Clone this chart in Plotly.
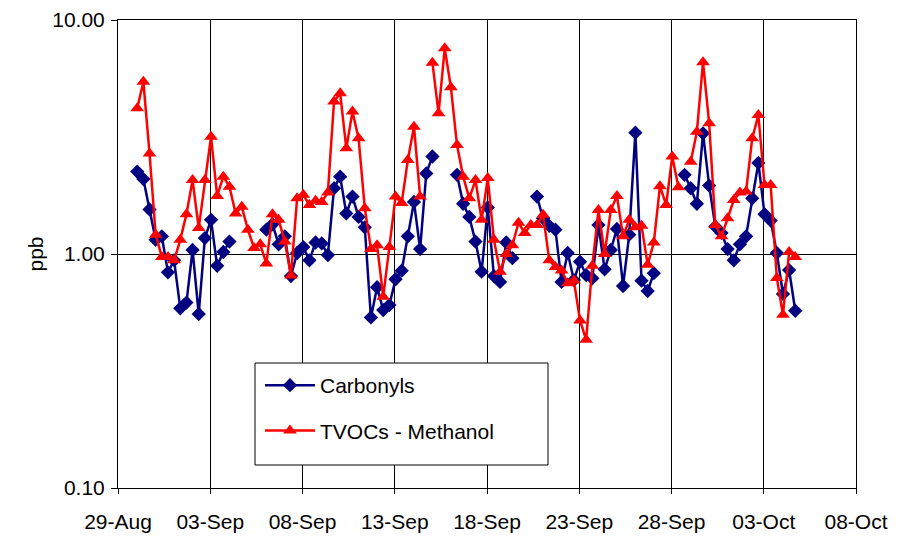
import datetime as dt
import plotly.graph_objects as go

# sampling: every 8 hours starting 30-Aug
start = dt.datetime(2004, 8, 30, 1, 0)
step_hours = 8

carbonyls = [
    2.25, 2.09, 1.55, 1.15, 1.19, 0.835, 0.94, 0.586, 0.62, 1.04,
    0.554, 1.17, 1.40, 0.89, 1.02, 1.13, None, None, None, None,
    None, 1.27, 1.34, 1.10, 1.19, 0.805, 1.01, 1.07, 0.94, 1.12,
    1.11, 0.99, 1.91, 2.14, 1.49, 1.76, 1.44, 1.30, 0.536, 0.721,
    0.576, 0.605, 0.78, 0.849, 1.19, 1.67, 1.05, 2.21, 2.61, None,
    None, None, 2.18, 1.64, 1.44, 1.13, 0.84, 1.58, 0.805, 0.76,
    1.12, 0.96, None, None, None, 1.76, 1.42, 1.32, 1.27, 0.76,
    1.01, 0.774, 0.927, 0.813, 0.787, 1.33, 0.86, 1.04, 1.28, 0.73,
    1.21, 3.30, 0.769, 0.695, 0.828, None, None, None, None, 2.18,
    1.91, 1.64, 3.28, 1.96, 1.31, 1.23, 1.05, 0.94, 1.10, 1.19,
    1.73, 2.45, 1.48, 1.39, 1.01, 0.675, 0.854, 0.572,
]

tvocs = [
    4.2, 5.45, 2.69, 1.21, 0.97, 0.97, 0.94, 1.15, 1.48, 2.07,
    1.29, 2.07, 3.17, 1.77, 2.14, 1.94, 1.49, 1.59, 1.27, 1.06,
    1.10, 0.91, 1.48, 1.40, 1.13, 0.81, 1.73, 1.79, 1.62, 1.69,
    1.67, 1.83, 4.48, 4.86, 2.83, 4.06, 3.12, 1.57, 1.05, 1.09,
    0.657, 1.07, 1.76, 1.65, 2.52, 3.50, 1.76, None, 6.57, 3.99,
    7.57, 5.16, 2.92, 2.14, 1.73, 2.07, 1.40, 2.11, 1.15, 0.84,
    1.0, 1.09, 1.36, 1.23, 1.33, 1.33, 1.47, 0.94, 0.88, 0.85,
    0.75, 0.77, 0.52, 0.43, 0.89, 1.54, 1.0, 1.54, 1.77, 1.19,
    1.40, 1.30, 1.32, 0.90, 1.12, 1.95, 1.62, 2.61, 1.93, None,
    2.48, 3.33, 6.6, 3.62, 1.33, 1.19, 1.42, 1.70, 1.83, 1.85,
    3.12, 3.93, 1.97, 1.97, 0.79, 0.55, 1.02, 0.97,
]

times = [start + dt.timedelta(hours=step_hours * i) for i in range(len(tvocs))]

x_tick_dates = ["2004-08-29", "2004-09-03", "2004-09-08", "2004-09-13",
                "2004-09-18", "2004-09-23", "2004-09-28", "2004-10-03", "2004-10-08"]
x_tick_labels = ["29-Aug", "03-Sep", "08-Sep", "13-Sep", "18-Sep",
                 "23-Sep", "28-Sep", "03-Oct", "08-Oct"]
y_tick_vals = [0.1, 1, 10]
y_tick_labels = ["0.10", "1.00", "10.00"]

FONT = "Arial, 'Liberation Sans', sans-serif"
BLUE = "#000080"
RED = "#FF0000"
FS = 21

fig = go.Figure()
fig.add_trace(go.Scatter(
    x=times, y=carbonyls, name="Carbonyls", mode="lines+markers",
    line=dict(color=BLUE, width=2.5),
    marker=dict(symbol="diamond", size=11, color=BLUE),
    connectgaps=False, legendgroup="a",
))
fig.add_trace(go.Scatter(
    x=times, y=tvocs, name="TVOCs - Methanol", mode="lines+markers",
    line=dict(color=RED, width=2.5),
    marker=dict(symbol="triangle-up", size=12, color=RED),
    connectgaps=False, legendgroup="b",
))

W, H = 898, 541
L, R, T, B = 118, 42, 20, 53
pw, ph = W - L - R, H - T - B

def px_x(p):
    return (p - L) / pw

def px_y(p):
    return (H - B - p) / ph

# legend frame
fig.add_shape(type="rect", xref="paper", yref="paper",
              x0=px_x(255), x1=px_x(548), y0=px_y(465), y1=px_y(363),
              line=dict(color="black", width=1), fillcolor="white", layer="above")

fig.update_layout(
    width=W, height=H,
    margin=dict(l=L, r=R, t=T, b=B, autoexpand=False),
    paper_bgcolor="white", plot_bgcolor="white",
    font=dict(family=FONT, size=FS, color="black"),
    showlegend=True,
    legend=dict(
        x=px_x(260), y=px_y(365), xanchor="left", yanchor="top",
        bgcolor="rgba(0,0,0,0)", borderwidth=0,
        font=dict(family=FONT, size=FS, color="black"),
        traceorder="grouped", tracegroupgap=15, itemwidth=50,
    ),
    xaxis=dict(
        type="date", automargin=False,
        range=[x_tick_dates[0], x_tick_dates[-1]],
        tickmode="array", tickvals=x_tick_dates, ticktext=x_tick_labels,
        showgrid=True, gridcolor="black", gridwidth=1,
        showline=True, linecolor="black", linewidth=1, mirror=True,
        ticks="outside", ticklen=5, tickcolor="black",
        ticklabelstandoff=10,
        tickfont=dict(family=FONT, size=FS),
        zeroline=False,
    ),
    yaxis=dict(
        type="log", range=[-1, 1], automargin=False,
        tickmode="array", tickvals=y_tick_vals, ticktext=y_tick_labels,
        showgrid=True, gridcolor="black", gridwidth=1,
        showline=True, linecolor="black", linewidth=1, mirror=True,
        ticks="outside", ticklen=6, tickcolor="black",
        ticklabelstandoff=2,
        tickfont=dict(family=FONT, size=FS),
        title=dict(text="ppb", font=dict(family=FONT, size=FS), standoff=2),
        zeroline=False,
    ),
)

fig.write_html("out.html", config={"displayModeBar": False},
               post_script="document.body.style.margin='0';")
